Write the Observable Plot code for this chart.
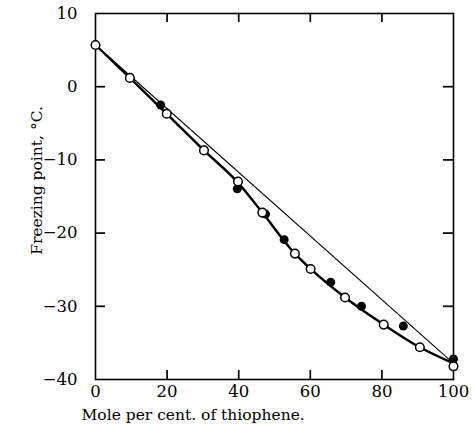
<!DOCTYPE html>
<html><head><meta charset="utf-8">
<script src="https://cdn.jsdelivr.net/npm/d3@7"></script>
<script src="https://cdn.jsdelivr.net/npm/@observablehq/plot@0.6"></script>
<style>body{margin:0;background:#fff}</style>
</head><body><div id="chart"></div>
<script>
// Open circles
const openX = [0, 9.6, 19.9, 30.3, 39.8, 46.6, 55.7, 60.1, 69.7, 80.5, 90.6, 100];
const openY = [5.7, 1.2, -3.7, -8.7, -12.95, -17.2, -22.8, -24.9, -28.8, -32.5, -35.6, -38.2];
// Filled circles
const filledX = [18.2, 39.6, 47.5, 52.7, 65.7, 74.3, 86.0, 100];
const filledY = [-2.5, -13.95, -17.4, -20.9, -26.7, -30.0, -32.7, -37.2];
// Heavy curve through experimental points
const curveX = [0, 9.6, 19.9, 30.3, 39.8, 46.6, 55.7, 60.1, 69.7, 80.5, 90.6, 100];
const curveY = [5.7, 1.2, -3.7, -8.7, -13.1, -17.2, -22.8, -24.9, -28.8, -32.5, -35.6, -37.8];
// Thin straight (ideal) line
const idealX = [0, 100];
const idealY = [5.7, -37.8];
// Ticks
const xTicks = [0, 20, 40, 60, 80, 100];
const yTicks = [10, 0, -10, -20, -30, -40];
const xLabel = "Mole per cent. of thiophene.";
const yLabel = "Freezing point, °C.";

const W = 474, H = 441, ML = 95, MR = 21, MT = 13, MB = 62;
const frameW = W - ML - MR, frameH = H - MT - MB;
const fmt = d => d < 0 ? "\u2212" + Math.abs(d) : String(d);
const zip = (xs, ys) => xs.map((x, i) => ({x, y: ys[i]}));
const innerX = xTicks.slice(1, -1);
const innerY = yTicks.slice(1, -1);

const plot = Plot.plot({
  width: W, height: H,
  marginLeft: ML, marginRight: MR, marginTop: MT, marginBottom: MB,
  style: {fontFamily: "'DejaVu Serif', serif", fontSize: "16.5px", color: "#000", background: "#fff"},
  x: {domain: [0, 100]},
  y: {domain: [-40, 10]},
  marks: [
    Plot.frame({stroke: "#000", strokeWidth: 1.6}),
    Plot.axisX({ticks: xTicks, tickSize: 0, tickPadding: 6, tickFormat: fmt, label: null}),
    Plot.axisY({ticks: yTicks, tickSize: 0, tickPadding: 18, tickFormat: fmt, label: null}),
    // inward tick marks on all four sides
    Plot.tickX(innerX, {x: d => d, insetTop: frameH - 9, stroke: "#000", strokeWidth: 1.7}),
    Plot.tickX(innerX, {x: d => d, insetBottom: frameH - 9, stroke: "#000", strokeWidth: 1.7}),
    Plot.tickY(innerY, {y: d => d, insetRight: frameW - 10, stroke: "#000", strokeWidth: 1.7}),
    Plot.tickY(innerY, {y: d => d, insetLeft: frameW - 10, stroke: "#000", strokeWidth: 1.7}),
    Plot.line(zip(idealX, idealY), {x: "x", y: "y", stroke: "#000", strokeWidth: 1.1}),
    Plot.line(zip(curveX, curveY), {x: "x", y: "y", stroke: "#000", strokeWidth: 2.4, curve: "monotone-x"}),
    Plot.dot(zip(filledX, filledY), {x: "x", y: "y", fill: "#000", r: 4.5}),
    Plot.dot(zip(openX, openY), {x: "x", y: "y", fill: "#fff", stroke: "#000", strokeWidth: 1.5, r: 4.3}),
    Plot.text([xLabel], {frameAnchor: "bottom-left", textAnchor: "start", dx: -14, dy: 40, fontSize: 15.5, fill: "#000"}),
    Plot.text([yLabel], {frameAnchor: "left", textAnchor: "middle", rotate: -90, dx: -58, dy: -16, fontSize: 15.5, fill: "#000"})
  ]
});
document.getElementById("chart").appendChild(plot);
</script>
</body></html>
